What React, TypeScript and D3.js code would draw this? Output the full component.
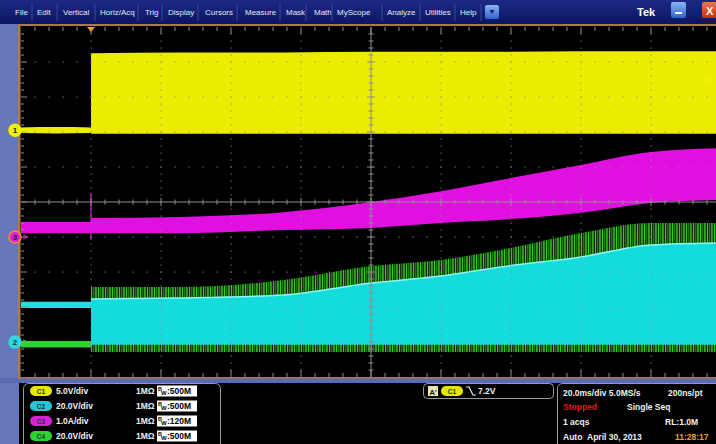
import * as d3 from 'd3';

// time axis in ms, 20 ms/div, trigger one division from the left
const tDomain = [-20, 180];
const preTime = [-20, -10, 0];
const postTime = [0, 25, 55, 80, 100, 117, 140, 160, 180];

// channel settings: position (div) and scale (units/div)
const ch1Pos = 2.05, ch1Scale = 5; // yellow, V
const ch2Pos = -4, ch2Scale = 20; // cyan, V
const ch3Pos = -1, ch3Scale = 1; // magenta, A
const ch4Pos = -4, ch4Scale = 20; // green, V

// yellow: gate drive
const ch1PreHigh = [0.4, 0.45, 0.4];
const ch1PreLow = [-0.4, -0.45, -0.4];
const ch1PostHigh = [11.0, 11.1, 11.1, 11.2, 11.2, 11.2, 11.3, 11.3, 11.3];
const ch1PostLow = [-0.5, -0.5, -0.5, -0.5, -0.5, -0.5, -0.5, -0.5, -0.5];

// magenta: current envelope
const ch3PreHigh = [0.43, 0.43, 0.43];
const ch3PreLow = [0.11, 0.11, 0.11];
const ch3PostHigh = [0.54, 0.57, 0.71, 1.0, 1.31, 1.63, 2.06, 2.43, 2.54];
const ch3PostLow = [0.11, 0.11, 0.2, 0.26, 0.4, 0.49, 0.69, 0.97, 1.06];
const ch3Spike = [-0.09, 1.26];

// cyan: switch node envelope
const ch2PreHigh = [23, 23, 23];
const ch2PreLow = [19.5, 19.5, 19.5];
const ch2PostHigh = [24.6, 25.1, 26.9, 33.7, 37.7, 42.9, 48.6, 55.4, 56.6];
const ch2PostLow = [-1.5, -1.5, -1.5, -1.5, -1.5, -1.5, -1.5, -1.5, -1.5];

// green: ringing peaks
const ch4PreHigh = [0.6, 0.6, 0.6];
const ch4PreLow = [-3.2, -3.2, -3.2];
const ch4PostPeak = [31.4, 31.4, 35.4, 43.4, 46.9, 52.6, 62.3, 68, 68];
const ch4PostLow = [-5.7, -5.7, -5.7, -5.7, -5.7, -5.7, -5.7, -5.7, -5.7];

const trigLevel = 7.2;

const menuItems = [
  ['File', 15], ['Edit', 37], ['Vertical', 63], ['Horiz/Acq', 100], ['Trig', 145],
  ['Display', 168], ['Cursors', 205], ['Measure', 245], ['Mask', 286], ['Math', 314],
  ['MyScope', 337], ['Analyze', 387], ['Utilities', 425], ['Help', 460],
] as const;
const menuSeps = [32, 57, 95, 138, 162, 198, 237, 280, 306, 332, 382, 420, 455, 481];

const chanRows = [
  { id: 'C1', color: '#e6e600', scale: '5.0V/div', bw: '500M' },
  { id: 'C2', color: '#22c8d2', scale: '20.0V/div', bw: '500M' },
  { id: 'C3', color: '#d424d4', scale: '1.0A/div', bw: '120M' },
  { id: 'C4', color: '#2ed22e', scale: '20.0V/div', bw: '500M' },
];

const W = 716, H = 444;
const gx0 = 21, gy0 = 27, div = 70, divY = 35;
const x = d3.scaleLinear(tDomain, [gx0, gx0 + 10 * div]);
const yDiv = d3.scaleLinear([-5, 5], [gy0 + 10 * divY, gy0]);
const yOf = (pos: number, scale: number) => (v: number) => yDiv(pos + v / scale);

function band(times: number[], hi: number[], lo: number[], yf: (v: number) => number) {
  const a = d3
    .area<number>()
    .x((t) => x(t))
    .y0((_, i) => yf(lo[i]))
    .y1((_, i) => yf(hi[i]))
    .curve(d3.curveMonotoneX);
  return a(times) ?? '';
}

const font = "'Liberation Sans', Arial, sans-serif";

function Pill({ cx, cy, label, color }: { cx: number; cy: number; label: string; color: string }) {
  return (
    <g>
      <rect x={cx - 11} y={cy - 5} width={22} height={10} rx={5} fill={color} />
      <text x={cx} y={cy + 2.5} fontSize={6.5} fontWeight={700} textAnchor="middle" fill="#203040" fontFamily={font}>
        {label}
      </text>
    </g>
  );
}

export default function App() {
  const y1 = yOf(ch1Pos, ch1Scale);
  const y2 = yOf(ch2Pos, ch2Scale);
  const y3 = yOf(ch3Pos, ch3Scale);
  const y4 = yOf(ch4Pos, ch4Scale);
  const gx1 = gx0 + 10 * div;
  const gy1 = gy0 + 10 * divY;
  const cxm = gx0 + 5 * div;
  const cym = gy0 + 5 * divY;

  const cyanTop = d3
    .line<number>()
    .x((t) => x(t))
    .y((_, i) => y2(ch2PostHigh[i]))
    .curve(d3.curveMonotoneX)(postTime) ?? '';

  const vDots: [number, number][] = [];
  d3.range(1, 10).forEach((i) => {
    if (i === 5) return;
    d3.range(gy0 + 7, gy1, 7).forEach((yy) => vDots.push([gx0 + i * div, yy]));
  });
  d3.range(1, 10).forEach((j) => {
    if (j === 5) return;
    d3.range(gx0 + 14, gx1, 14).forEach((xx) => vDots.push([xx, gy0 + j * divY]));
  });

  return (
    <svg width={W} height={H} style={{ position: 'fixed', left: 0, top: 0, display: 'block' }}>
      <style>{'body{margin:0;background:#000}'}</style>
      <defs>
        <linearGradient id="menu" x1="0" y1="0" x2="0" y2="1">
          <stop offset="0" stopColor="#1c2a86" />
          <stop offset="1" stopColor="#0b1660" />
        </linearGradient>
        <linearGradient id="btnBlue" x1="0" y1="0" x2="0" y2="1">
          <stop offset="0" stopColor="#8ab4f4" />
          <stop offset="1" stopColor="#2f62d0" />
        </linearGradient>
        <linearGradient id="btnRed" x1="0" y1="0" x2="0" y2="1">
          <stop offset="0" stopColor="#f0784a" />
          <stop offset="1" stopColor="#c83010" />
        </linearGradient>
        <pattern id="spikes" width={7} height={6} patternUnits="userSpaceOnUse">
          <rect x={0} width={1.1} height={6} fill="#34c820" />
          <rect x={2.4} width={0.8} height={6} fill="#28a818" />
          <rect x={4.3} width={1.3} height={6} fill="#3ad624" />
        </pattern>
        <clipPath id="grat">
          <rect x={gx0} y={gy0} width={gx1 - gx0} height={gy1 - gy0} />
        </clipPath>
      </defs>

      <rect width={W} height={H} fill="#000" />

      {/* menu bar */}
      <rect width={W} height={24} fill="url(#menu)" />
      {menuItems.map(([label, px]) => (
        <text key={label} x={px} y={15} fontSize={8} fill="#e4e8f4" fontFamily={font}>
          {label}
        </text>
      ))}
      {menuSeps.map((sx) => (
        <line key={sx} x1={sx} x2={sx} y1={4} y2={21} stroke="#3b4a9a" strokeWidth={1} />
      ))}
      <rect x={485} y={5} width={14} height={14} rx={2} fill="url(#btnBlue)" />
      <path d="M489.5,10 L494.5,10 L492,14 Z" fill="#10205a" />
      <text x={637} y={16} fontSize={11} fontWeight={700} fill="#fff" fontFamily={font}>
        Tek
      </text>
      <rect x={671} y={2} width={15} height={16} rx={2} fill="url(#btnBlue)" />
      <rect x={675} y={12} width={7} height={2} fill="#fff" />
      <rect x={702} y={2} width={16} height={16} rx={2} fill="url(#btnRed)" />
      <text x={706} y={15} fontSize={11} fontWeight={700} fill="#fff" fontFamily={font}>
        X
      </text>

      {/* frame */}
      <rect x={0} y={24} width={19} height={H - 24} fill="#6577ba" />
      <rect x={0} y={378} width={W} height={5} fill="#5a6bb0" />
      <rect x={19} y={24} width={W - 19} height={2} fill="#a87c4c" />
      <rect x={18} y={24} width={2.5} height={355} fill="#b07a40" />
      <rect x={19} y={377} width={W - 19} height={1.5} fill="#a87c4c" />

      {/* traces */}
      <g clipPath="url(#grat)">
        <path d={band(preTime, ch4PreHigh, ch4PreLow, y4)} fill="#2ed22e" />
        <path d={band(postTime, ch4PostPeak, ch4PostLow, y4)} fill="#0a2a05" />
        <path d={band(postTime, ch4PostPeak, ch4PostLow, y4)} fill="url(#spikes)" />
        <path d={band(preTime, ch2PreHigh, ch2PreLow, y2)} fill="#1ee0e4" />
        <path d={band(postTime, ch2PostHigh, ch2PostLow, y2)} fill="#14dcdc" />
        <path d={cyanTop} fill="none" stroke="#8ff8f8" strokeWidth={1.5} />

        <path d={band(preTime, ch3PreHigh, ch3PreLow, y3)} fill="#e010e0" />
        <path d={band(postTime, ch3PostHigh, ch3PostLow, y3)} fill="#e010e0" />
        <line x1={x(0)} x2={x(0)} y1={y3(ch3Spike[0])} y2={y3(ch3Spike[1])} stroke="#e010e0" strokeWidth={1.2} />

        <path d={band(preTime, ch1PreHigh, ch1PreLow, y1)} fill="#ecec00" />
        <path d={band(postTime, ch1PostHigh, ch1PostLow, y1)} fill="#ecec00" />
      </g>

      {/* graticule */}
      <g fill="#8c8c8c" opacity={0.8}>
        {vDots.map(([dx, dy], i) => (
          <rect key={i} x={dx - 0.5} y={dy - 0.5} width={1.2} height={1.2} />
        ))}
      </g>
      <g stroke="#8e8e8e" strokeWidth={1}>
        <line x1={cxm} x2={cxm} y1={gy0} y2={gy1} />
        <line x1={gx0} x2={gx1} y1={cym} y2={cym} />
        {d3.range(gy0 + 7, gy1, 7).map((yy, i) => {
          const l = (i + 1) % 5 === 0 ? 4 : 2.5;
          return <line key={'cv' + i} x1={cxm - l} x2={cxm + l} y1={yy} y2={yy} />;
        })}
        {d3.range(gx0 + 14, gx1, 14).map((xx, i) => {
          const l = (i + 1) % 5 === 0 ? 4 : 2.5;
          return <line key={'ch' + i} x1={xx} x2={xx} y1={cym - l} y2={cym + l} />;
        })}
        {d3.range(gx0 + 14, gx1, 14).map((xx, i) => {
          const l = (i + 1) % 5 === 0 ? 7 : 4;
          return (
            <g key={'tb' + i}>
              <line x1={xx} x2={xx} y1={gy0} y2={gy0 + l} />
              <line x1={xx} x2={xx} y1={gy1} y2={gy1 - l} />
            </g>
          );
        })}
        {d3.range(gy0 + 7, gy1, 7).map((yy, i) => {
          const l = (i + 1) % 5 === 0 ? 6 : 3;
          return <line key={'lt' + i} x1={gx0} x2={gx0 + l} y1={yy} y2={yy} />;
        })}
      </g>

      {/* trigger markers */}
      <path d={`M${x(0) - 4},${gy0} L${x(0) + 4},${gy0} L${x(0)},${gy0 + 5} Z`} fill="#f0a020" />
      <path
        d={`M713,${y1(trigLevel) - 4} L707,${y1(trigLevel)} L713,${y1(trigLevel) + 4}`}
        fill="none"
        stroke="#f4f400"
        strokeWidth={1.2}
      />

      {/* channel ground markers */}
      {[
        { n: '1', yy: y1(0), fill: '#f2f200', ring: '#f2f200', arrow: '#f2f200' },
        { n: '3', yy: y3(0), fill: '#e020e0', ring: '#f0902a', arrow: '#e020e0' },
        { n: '2', yy: y2(0), fill: '#30d8e0', ring: '#30d8e0', arrow: '#30e030' },
      ].map((m) => (
        <g key={m.n}>
          <circle cx={15} cy={m.yy} r={6} fill={m.fill} stroke={m.ring} strokeWidth={1.5} />
          <text x={15} y={m.yy + 3} fontSize={8} fontWeight={700} textAnchor="middle" fill="#202020" fontFamily={font}>
            {m.n}
          </text>
          <path d={`M23,${m.yy - 2} L28,${m.yy} L23,${m.yy + 2}`} fill="none" stroke={m.arrow} strokeWidth={1} />
        </g>
      ))}

      {/* bottom panel: channel settings */}
      <rect x={23.5} y={383.5} width={197} height={70} rx={5} fill="#000" stroke="#9a9a9a" />
      {chanRows.map((r, i) => {
        const cy = 391 + i * 15;
        return (
          <g key={r.id} fontFamily={font} fontWeight={700} fontSize={8.5} fill="#f0f0f0">
            <Pill cx={41} cy={cy} label={r.id} color={r.color} />
            <text x={56} y={cy + 3}>{r.scale}</text>
            <text x={136} y={cy + 3}>1MΩ</text>
            <rect x={157} y={cy - 5.5} width={40} height={11} fill="#fff" />
            <text x={158} y={cy - 0.5} fontSize={5.5} fill="#000">B</text>
            <text x={161} y={cy + 4} fontSize={6} fill="#000">W</text>
            <text x={167} y={cy + 3} fill="#000">:{r.bw}</text>
          </g>
        );
      })}

      {/* trigger box */}
      <rect x={423.5} y={383.5} width={130} height={15} rx={4} fill="#000" stroke="#9a9a9a" />
      <rect x={428} y={386} width={10} height={10} fill="#e8e4b8" />
      <text x={429.5} y={394.5} fontSize={7.5} fontWeight={700} fill="#202020" fontFamily={font}>
        A'
      </text>
      <Pill cx={452} cy={391} label="C1" color="#e6e600" />
      <path d="M466,387 L469,387 L473,395 L476,395" fill="none" stroke="#f0f0f0" strokeWidth={1.2} />
      <text x={478} y={394} fontSize={8.5} fontWeight={700} fill="#f0f0f0" fontFamily={font}>
        {trigLevel.toFixed(1)}V
      </text>

      {/* acquisition box */}
      <rect x={557.5} y={383.5} width={170} height={70} rx={5} fill="#000" stroke="#9a9a9a" />
      <g fontFamily={font} fontWeight={700} fontSize={8.5} fill="#f0f0f0">
        <text x={563} y={396}>20.0ms/div 5.0MS/s</text>
        <text x={668} y={396}>200ns/pt</text>
        <text x={563} y={410} fill="#e01818">Stopped</text>
        <text x={627} y={410}>Single Seq</text>
        <text x={563} y={425}>1 acqs</text>
        <text x={665} y={425}>RL:1.0M</text>
        <text x={563} y={440}>Auto</text>
        <text x={587} y={440}>April 30, 2013</text>
        <text x={675} y={440} fill="#f0a030">11:28:17</text>
      </g>
    </svg>
  );
}
